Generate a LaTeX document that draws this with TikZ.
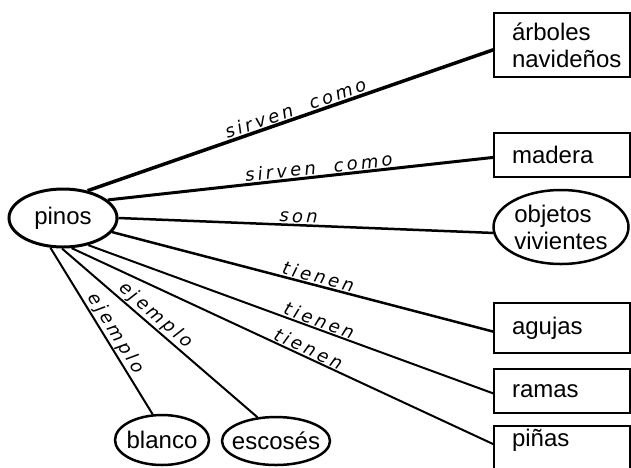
\documentclass[tikz,border=0pt]{standalone}
\usepackage{fontspec}
\setmainfont{Liberation Sans}
\newfontfamily\handfont[LetterSpace=18]{DejaVu Sans}
\usetikzlibrary{shapes.geometric}
\begin{document}
\begin{tikzpicture}[x=1pt,y=-1pt,
  every node/.style={font=\fontsize{24}{27}\selectfont},
  conbox/.style={draw, line width=1.5pt, rectangle, minimum width=136pt,
    text width=136pt, inner xsep=0pt, align=left,
    execute at begin node={\leftskip=18pt}},
  ell/.style={draw, ellipse, line width=2.5pt, inner sep=0pt, inner xsep=-6pt},
  lab/.style={font=\handfont\itshape\fontsize{18}{18}\selectfont, sloped, above, inner sep=1pt},
  con/.style={line width=2pt}]
\useasboundingbox (0,0) rectangle (631,467);
% concepts
\node[ell, line width=3pt, minimum width=108pt, minimum height=58pt] (pinos) at (63,218) {pinos};
\node[conbox, minimum height=64pt] (arb) at (562,45) {árboles\\navideños};
\node[conbox, minimum height=44pt] (mad) at (562,155) {madera};
\node[ell, inner xsep=0pt, minimum width=135pt, minimum height=74pt, align=left] (obj) at (561,227) {objetos\\vivientes};
\node[conbox, minimum height=50pt] (agu) at (562,328) {agujas};
\node[conbox, minimum height=44pt] (ram) at (562,391) {ramas};
\node[conbox, anchor=north, text height=17pt, text depth=30pt, inner ysep=4pt] (pin) at (562,425) {piñas};
\node[ell, minimum width=94pt, minimum height=50pt] (bla) at (162,440) {blanco};
\node[ell, minimum width=108pt, minimum height=48pt] (esc) at (276,441) {escosés};
% connectors
\draw[con, line width=3.5pt] (pinos.48) -- (arb.184) node[lab, pos=0.52] {sirven\hspace{18pt}como};
\draw[con, line width=3pt] (pinos.22) -- (mad.182) node[lab, pos=0.55] {sirven\hspace{18pt}como};
\draw[con, line width=2.5pt] (pinos.0) -- (obj.185) node[lab, pos=0.48] {son};
\draw[con, line width=2.5pt] (pinos.-16) -- (agu.183) node[lab, pos=0.535] {tienen};
\draw[con] (pinos.-47) -- (ram.182) node[lab, pos=0.563] {tienen};
\draw[con] (pinos.-74) -- (pin.mid west) node[lab, pos=0.553] {tienen};
\draw[con] (pinos.-92) -- (esc.128) node[lab, pos=0.445] {ejemplo};
\draw[con] (pinos.-113) -- (bla.110) node[lab, pos=0.55] {ejemplo};
\end{tikzpicture}
\end{document}
